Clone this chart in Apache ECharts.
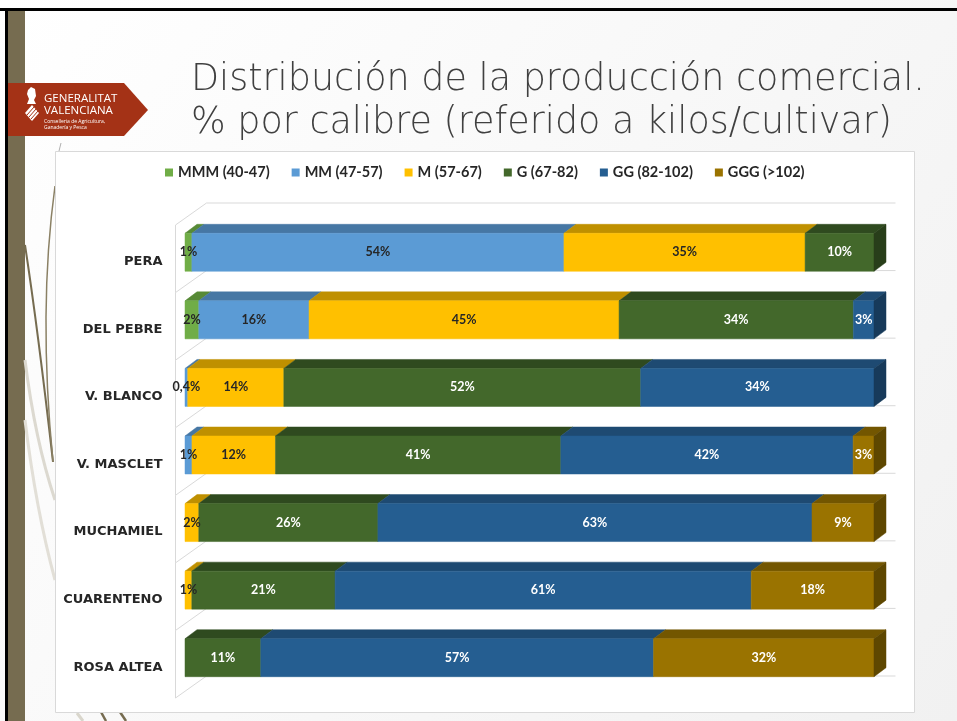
<!DOCTYPE html>
<html>
<head>
<meta charset="utf-8">
<script src="https://cdn.jsdelivr.net/npm/echarts@6/dist/echarts.min.js"></script>
<style>
  html, body { margin: 0; padding: 0; background: #ffffff; }
  #chart { width: 957px; height: 721px; }
</style>
</head>
<body>
<div id="chart"></div>
<script>
// categorias (de arriba a abajo) y % por calibre
const categories = ['PERA', 'DEL PEBRE', 'V. BLANCO', 'V. MASCLET', 'MUCHAMIEL', 'CUARENTENO', 'ROSA ALTEA'];
const sizeNames = ['MMM (40-47)', 'MM (47-57)', 'M (57-67)', 'G (67-82)', 'GG (82-102)', 'GGG (>102)'];
const mmm = [1, 2, 0, 0, 0, 0, 0];
const mm = [54, 16, 0.4, 1, 0, 0, 0];
const m = [35, 45, 14, 12, 2, 1, 0];
const g = [10, 34, 52, 41, 26, 21, 11];
const gg = [0, 3, 34, 42, 63, 61, 57];
const ggg = [0, 0, 0, 3, 9, 18, 32];
const seriesValues = [mmm, mm, m, g, gg, ggg];

// colores cara frontal / superior / lateral
const FRONT = ['#70ad47', '#5b9bd5', '#ffc000', '#43682b', '#255e91', '#9a7300'];
const TOP = ['#578a36', '#4677a4', '#bf9000', '#2f4a1f', '#1e4a72', '#735600'];
const SIDE = ['#4a7330', '#3d6890', '#a67d00', '#283e1a', '#173a5a', '#5e4700'];
const LABEL_COLOR = ['#262626', '#262626', '#262626', '#ffffff', '#ffffff', '#ffffff'];

const DX = 12, DY = -9;     // profundidad de la barra
const OX = 9.5, OY = -6.5;  // desplazamiento de la barra dentro de la pared
const WX = 31, WY = -22;    // profundidad de la pared
const BAR = 0.562;

// 100% apilado: se normaliza cada fila a su total (como Excel)
const totals = categories.map((c, i) => seriesValues.reduce((a, arr) => a + arr[i], 0));
const segments = seriesValues.map(() => []);
categories.forEach((c, i) => {
  let acc = 0;
  let lastS = -1;
  seriesValues.forEach((arr, s) => { if (arr[i] > 0) lastS = s; });
  seriesValues.forEach((arr, s) => {
    const v = arr[i];
    if (!v) return;
    const start = acc / totals[i] * 100;
    acc += v;
    const end = acc / totals[i] * 100;
    segments[s].push([i, start, end, v, s === lastS ? 1 : 0, s]);
  });
});

function fmt(v) { return String(v).replace('.', ',') + '%'; }

function geom(api) {
  const c = api.value(0);
  const p0 = api.coord([api.value(1), c]);
  const p1 = api.coord([api.value(2), c]);
  const h = api.size([0, 1])[1] * BAR;
  const yc = p0[1] + OY;
  return { x0: p0[0] + OX, x1: p1[0] + OX, yc: yc, top: yc - h / 2, bottom: yc + h / 2, h: h };
}

function makeRender(si) {
  return function (params, api) {
    const q = geom(api);
    const last = api.value(4) === 1;
    const children = [
      { type: 'polygon', shape: { points: [[q.x0, q.top], [q.x1, q.top], [q.x1 + DX, q.top + DY], [q.x0 + DX, q.top + DY]] },
        style: { fill: TOP[si], stroke: TOP[si], lineWidth: 0.5 } },
      { type: 'rect', shape: { x: q.x0, y: q.top, width: q.x1 - q.x0, height: q.h },
        style: { fill: FRONT[si], stroke: FRONT[si], lineWidth: 0.5 } }
    ];
    if (last) {
      children.push({ type: 'polygon', shape: { points: [[q.x1, q.top], [q.x1 + DX, q.top + DY], [q.x1 + DX, q.bottom + DY], [q.x1, q.bottom]] },
        style: { fill: SIDE[si], stroke: SIDE[si], lineWidth: 0.5 } });
    }
    return { type: 'group', children: children };
  };
}

function renderWalls(params, api) {
  const c = api.value(0);
  const p0 = api.coord([0, c]);
  const p1 = api.coord([100, c]);
  const band = api.size([0, 1])[1];
  const yT = p0[1] - band / 2, yB = p0[1] + band / 2;
  const x0 = p0[0], x1 = p1[0];
  const ls = { stroke: '#d9d9d9', lineWidth: 1 };
  const ch = [
    { type: 'line', shape: { x1: x0, y1: yT, x2: x0, y2: yB }, style: ls },
    { type: 'line', shape: { x1: x0, y1: yT, x2: x0 + WX, y2: yT + WY }, style: ls },
    { type: 'line', shape: { x1: x0 + WX, y1: yT + WY, x2: x1 + WX, y2: yT + WY }, style: ls }
  ];
  if (c === categories.length - 1) {
    ch.push({ type: 'line', shape: { x1: x0, y1: yB, x2: x0 + WX, y2: yB + WY }, style: ls });
    ch.push({ type: 'line', shape: { x1: x0 + WX, y1: yB + WY, x2: x1 + WX, y2: yB + WY }, style: ls });
  }
  return { type: 'group', children: ch };
}

function renderLabels(params, api) {
  const q = geom(api);
  const si = api.value(5);
  return {
    type: 'text',
    x: (q.x0 + q.x1) / 2, y: q.yc,
    style: { text: fmt(api.value(3)), fill: LABEL_COLOR[si], font: 'bold 12.5px Lato',
      align: 'center', verticalAlign: 'middle' }
  };
}

const allSegments = [].concat.apply([], segments);

const series = [{
  type: 'custom', name: 'walls', z: 1, silent: true,
  renderItem: renderWalls,
  encode: { y: 0, x: 1 },
  data: categories.map((c, i) => [i, 0])
}];
sizeNames.forEach((name, si) => {
  series.push({
    type: 'custom', name: name, z: 3,
    itemStyle: { color: FRONT[si] },
    renderItem: makeRender(si),
    encode: { y: 0, x: [1, 2] },
    data: segments[si]
  });
});
series.push({
  type: 'custom', name: 'labels', z: 5, silent: true,
  renderItem: renderLabels,
  encode: { y: 0, x: [1, 2] },
  data: allSegments
});

const chart = echarts.init(document.getElementById('chart'));
chart.setOption({
  animation: false,
  backgroundColor: {
    type: 'linear', x: 0, y: 0, x2: 1, y2: 1,
    colorStops: [{ offset: 0, color: '#ffffff' }, { offset: 1, color: '#f1f1f1' }]
  },
  title: {
    text: 'Distribución de la producción comercial.\n% por calibre (referido a kilos/cultivar)',
    left: 186, top: 54,
    textStyle: { fontFamily: '"DejaVu Sans ExtraLight", "DejaVu Sans"', fontWeight: 200, fontSize: 36.5, lineHeight: 43, color: '#404040' }
  },
  legend: {
    data: sizeNames,
    left: 160, top: 160,
    icon: 'rect', itemWidth: 8, itemHeight: 8, itemGap: 22,
    textStyle: { fontFamily: 'Lato', fontWeight: 'bold', fontSize: 14.5, color: '#262626' }
  },
  grid: { left: 175.5, right: 92.5, top: 225, bottom: 23 },
  xAxis: {
    type: 'value', min: 0, max: 100, show: false
  },
  yAxis: {
    type: 'category', data: categories, inverse: true,
    axisLine: { show: false }, axisTick: { show: false }, splitLine: { show: false },
    axisLabel: {
      margin: 13,
      formatter: v => '{c|' + v + '}',
      rich: { c: { padding: [6, 0, 0, 0], color: '#262626', fontFamily: 'DejaVu Sans', fontWeight: 'bold', fontSize: 13 } }
    }
  },
  graphic: [
    // marco y franja lateral
    { type: 'rect', shape: { x: 0, y: 8, width: 957, height: 3 }, style: { fill: '#000000' } },
    { type: 'rect', shape: { x: 5, y: 8, width: 3, height: 713 }, style: { fill: '#000000' } },
    { type: 'rect', shape: { x: 8, y: 11, width: 17, height: 710 }, style: { fill: '#766c50' } },
    // trazos decorativos
    { type: 'bezierCurve', shape: { x1: 25, y1: 245, x2: 53, y2: 462, cpx1: 38, cpy1: 330 }, style: { stroke: '#766c50', lineWidth: 2, fill: null } },
    { type: 'bezierCurve', shape: { x1: 55, y1: 186, x2: 53, y2: 462, cpx1: 38, cpy1: 310 }, style: { stroke: '#8a8064', lineWidth: 1.5, fill: null } },
    { type: 'bezierCurve', shape: { x1: 25, y1: 360, x2: 55, y2: 500, cpx1: 35, cpy1: 440 }, style: { stroke: '#dcd9d0', lineWidth: 3, fill: null } },
    { type: 'bezierCurve', shape: { x1: 25, y1: 420, x2: 55, y2: 580, cpx1: 36, cpy1: 510 }, style: { stroke: '#e2dfd7', lineWidth: 3, fill: null } },
    { type: 'line', shape: { x1: 77, y1: 713, x2: 83, y2: 721 }, style: { stroke: '#d9d6cc', lineWidth: 3 } },
    { type: 'line', shape: { x1: 101, y1: 712, x2: 106, y2: 721 }, style: { stroke: '#766c50', lineWidth: 2.5 } },
    { type: 'line', shape: { x1: 120, y1: 712, x2: 126, y2: 721 }, style: { stroke: '#766c50', lineWidth: 2.5 } },
    { type: 'line', shape: { x1: 61, y1: 143, x2: 59, y2: 151 }, style: { stroke: '#b0b0b0', lineWidth: 1 } },
    // caja del grafico
    { type: 'rect', shape: { x: 55.5, y: 151.5, width: 859, height: 561 }, style: { fill: '#ffffff', stroke: '#d9d9d9', lineWidth: 1 } },
    // logo
    { type: 'polygon', shape: { points: [[8, 83], [124, 83], [148, 110], [124, 136], [8, 136]] }, style: { fill: '#a43216' } },
    { type: 'polygon', shape: { points: [[28, 90], [31, 87], [35, 89], [36, 96], [34, 100], [36, 104], [27, 104], [29, 99], [27, 94]] }, style: { fill: '#ffffff' } },
    { type: 'polygon', shape: { points: [[25, 113], [32, 105], [39, 113], [32, 121]] }, style: { fill: '#ffffff' } },
    { type: 'line', shape: { x1: 27, y1: 115, x2: 34, y2: 107 }, style: { stroke: '#a43216', lineWidth: 1 } },
    { type: 'line', shape: { x1: 29, y1: 117, x2: 36, y2: 109 }, style: { stroke: '#a43216', lineWidth: 1 } },
    { type: 'line', shape: { x1: 31, y1: 119, x2: 38, y2: 111 }, style: { stroke: '#a43216', lineWidth: 1 } },
    { type: 'text', x: 44, y: 99, style: { text: 'GENERALITAT', fill: '#ffffff', font: '500 11.5px "Open Sans"', verticalAlign: 'middle' } },
    { type: 'text', x: 44, y: 111, style: { text: 'VALENCIANA', fill: '#ffffff', font: '500 11.5px "Open Sans"', verticalAlign: 'middle' } },
    { type: 'text', x: 44, y: 122, style: { text: 'Conselleria de Agricultura,', fill: '#ffffff', font: '5px "Open Sans"', verticalAlign: 'middle' } },
    { type: 'text', x: 44, y: 128, style: { text: 'Ganadería y Pesca', fill: '#ffffff', font: '5px "Open Sans"', verticalAlign: 'middle' } }
  ],
  series: series
});
</script>
</body>
</html>
